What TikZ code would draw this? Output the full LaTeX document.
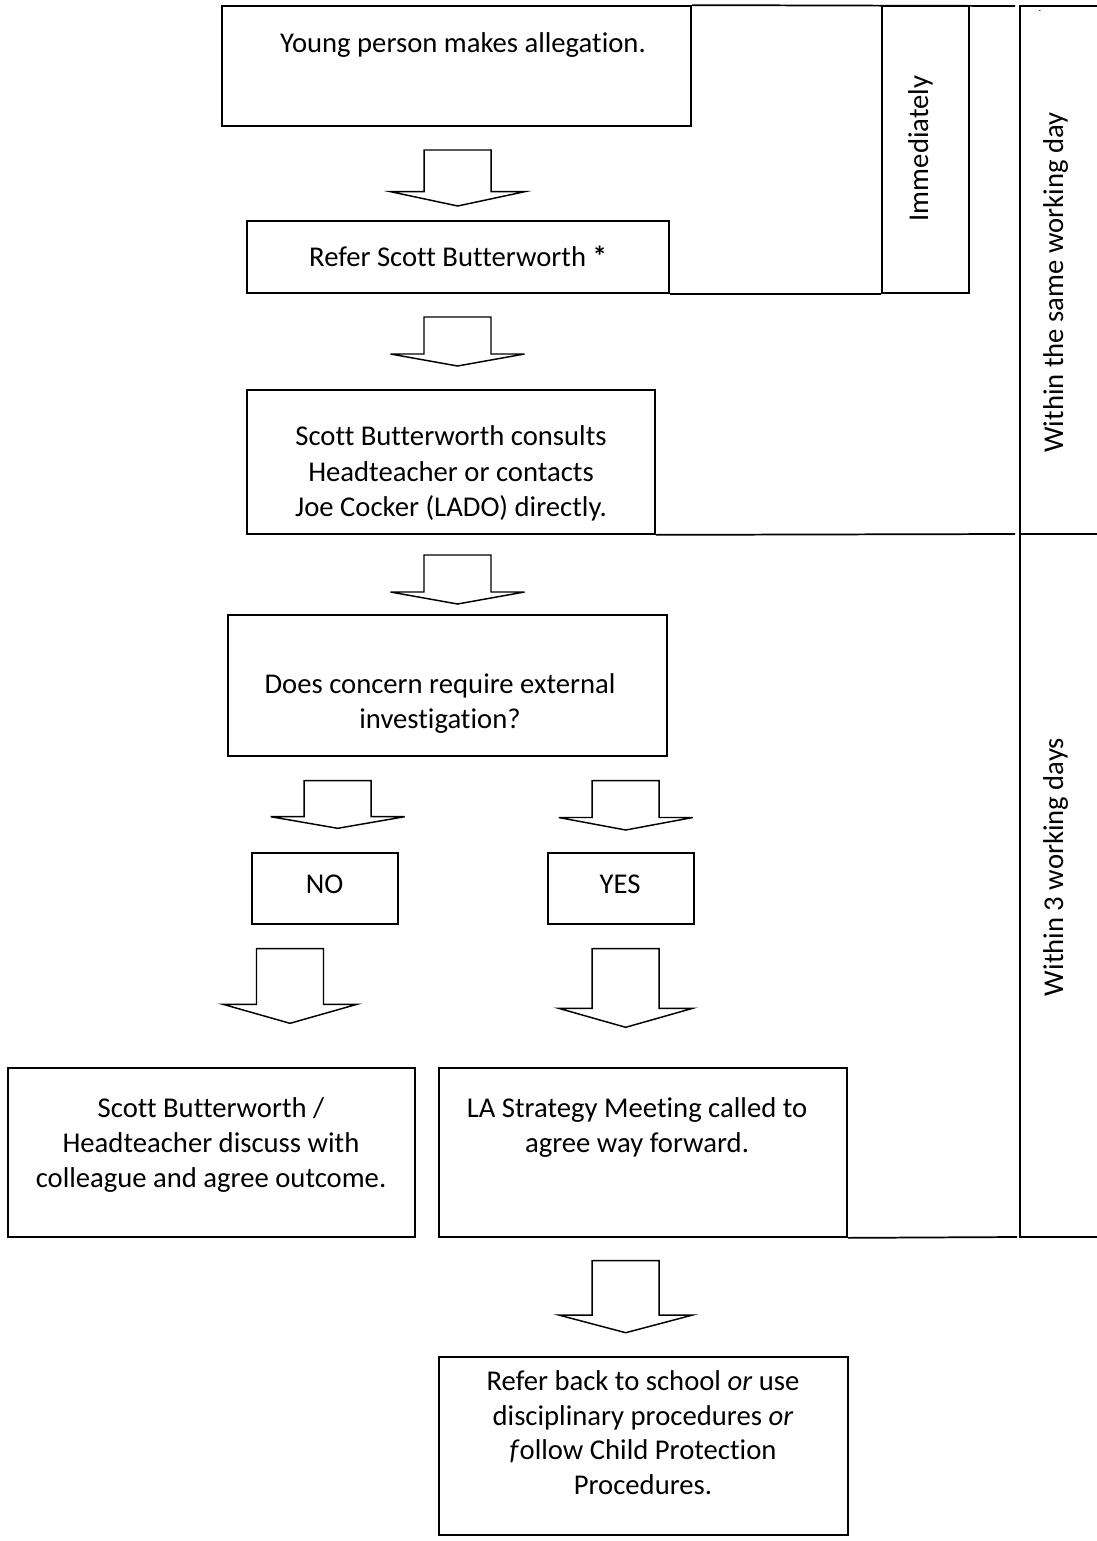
\documentclass[tikz,border=0pt]{standalone}
\usepackage{fontspec}
\setmainfont{Carlito}[Ligatures={NoCommon}]
\usetikzlibrary{fit}
\newcommand\blockarrow[5]{%
  \draw[barrow] ({#2-33.5},#3) coordinate (#1) -- ({#2+33.5},#3) -- ({#2+33.5},#4) -- ({#2+67},#4)
    -- (#2,#5) -- ({#2-67},#4) -- ({#2-33.5},#4) -- cycle;}
\begin{document}
\begin{tikzpicture}[x=0.75pt,y=-0.75pt,
  box/.style={draw,line width=1.3pt,inner sep=0pt},
  frame/.style={line width=1.3pt},
  barrow/.style={line width=1.1pt,line join=miter},
  txt/.style={inner sep=0pt,anchor=base,font=\fontsize{21.5}{27}\selectfont},
  vtxt/.style={txt,rotate=90}]
\useasboundingbox (0,0) rectangle (1096,1541);
% boxes
\node[box,fit={(222,6) (691,126)}] (b1) {};
\node[box,fit={(246.7,221) (669,293)}] (b2) {};
\node[box,fit={(246.7,390) (655,534)}] (b3) {};
\node[box,fit={(228.3,615) (666.7,756)}] (b4) {};
\node[box,fit={(251.7,852.7) (397.7,924.3)}] (bno) {};
\node[box,fit={(547.7,852.7) (694,924.3)}] (byes) {};
\node[box,fit={(8,1068) (415,1237)}] (b5) {};
\node[box,fit={(439,1068) (847,1237)}] (b6) {};
\node[box,fit={(439,1357) (848,1535)}] (b7) {};
\node[box,fit={(882,6) (969,293)}] (imm) {};
% table frame lines
\draw[frame] (b1.north east) -- (1015,6);
\draw[frame] (b2.south east) -- (imm.south west);
\draw[frame] (b3.south east) -- (1015,534);
\draw[frame] (b6.south east) -- (1017,1237);
\draw[frame] (1100,6) -- (1020,6) -- (1020,1237) -- (1100,1237);
\draw[frame] (1020,534) -- (1100,534);
% texts
\node[txt] (t1) at (463,53) {Young person makes allegation.};
\node[txt] (t2) at (458,266.7) {Refer Scott Butterworth \textbf{*}};
\node[txt] (t3a) at (451,445.7) {Scott Butterworth consults};
\node[txt] (t3b) at (451,481) {Headteacher or contacts};
\node[txt] (t3c) at (451,516.7) {Joe Cocker (LADO) directly.};
\node[txt] (t4a) at (440,693.3) {Does concern require external};
\node[txt] (t4b) at (440,728) {investigation?};
\node[txt] (tno) at (324.5,893.3) {NO};
\node[txt] (tyes) at (620,893.3) {YES};
\node[txt] (t5a) at (211,1117) {Scott Butterworth /};
\node[txt] (t5b) at (211,1152) {Headteacher discuss with};
\node[txt] (t5c) at (211,1187) {colleague and agree outcome.};
\node[txt] (t6a) at (637,1117) {LA Strategy Meeting called to};
\node[txt] (t6b) at (637,1152) {agree way forward.};
\node[txt] (t7a) at (643,1390) {Refer back to school \textit{or} use};
\node[txt] (t7b) at (643,1425) {disciplinary procedures \textit{or}};
\node[txt] (t7c) at (643,1459) {\textit{f}ollow Child Protection};
\node[txt] (t7d) at (643,1494) {Procedures.};
\node[vtxt] (vimm) at (928,148.5) {Immediately};
\node[vtxt] (vday) at (1063,282.5) {Within the same working day};
\node[vtxt] (v3) at (1063,867) {Within 3 working days};
\node[inner sep=0pt,font=\fontsize{8}{8}\selectfont] (dot) at (1040,11) {.};
% block arrows
\blockarrow{a1}{457.7}{150}{191.7}{206}
\blockarrow{a2}{457.5}{317}{354}{366}
\blockarrow{a3}{457.5}{555}{592}{604}
\blockarrow{a4}{337.7}{780.7}{816.7}{828.3}
\blockarrow{a5}{625.7}{780.7}{817.5}{830}
\blockarrow{a6}{290}{948.7}{1004.3}{1023.3}
\blockarrow{a7}{625.7}{948.7}{1008.3}{1027.3}
\blockarrow{a8}{625.7}{1260.7}{1315}{1332.7}
\end{tikzpicture}
\end{document}
